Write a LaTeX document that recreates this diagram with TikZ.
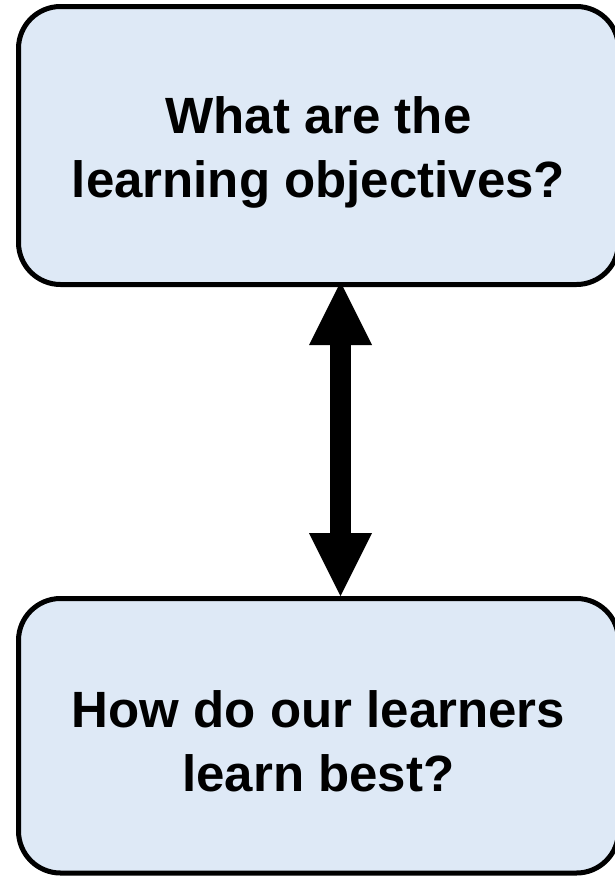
\documentclass[tikz,border=0pt]{standalone}
\usepackage{fontspec}
\setmainfont{Liberation Sans}
\usetikzlibrary{arrows.meta}
\definecolor{boxfill}{HTML}{DEE9F6}
\tikzset{
  qbox/.style={draw=black, line width=5pt, fill=boxfill, rounded corners=42pt,
    outer sep=0pt, inner sep=0pt, minimum width=600pt, align=center,
    font=\fontsize{51}{64}\selectfont\bfseries},
  bigarrow/.style={line width=21pt,
    {Triangle[length=63pt,width=63pt,line width=0pt]}-{Triangle[length=63pt,width=63pt,line width=0pt]}}
}
\begin{document}
\begin{tikzpicture}[x=1pt,y=-1pt]
\useasboundingbox (0,0) rectangle (615,876);
\node[qbox, minimum height=278pt] (a) at (318.5,145.5) {\rule{0pt}{51pt}What are the\\learning objectives?};
\node[qbox, minimum height=274.5pt] (b) at (318.5,735.75) {\rule{0pt}{48pt}How do our learners\\learn best?};
\draw[bigarrow] ([xshift=22pt,yshift=2.5pt]a.south) -- ([xshift=22pt,yshift=2.5pt]b.north);
\end{tikzpicture}
\end{document}
